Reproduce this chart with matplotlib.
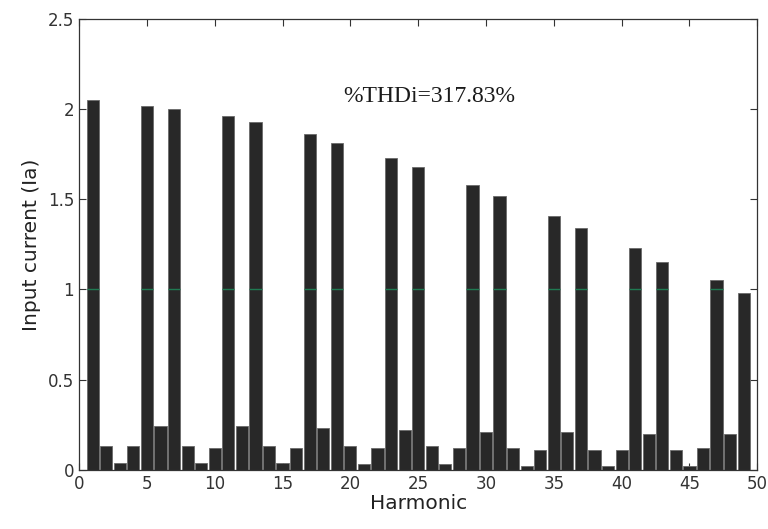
import numpy as np
import matplotlib.pyplot as plt

# harmonic order and input current magnitude (A)
harmonics = np.arange(1, 50)
current = [
    2.05, 0.13, 0.04, 0.13, 2.02, 0.24, 2.00, 0.13, 0.04, 0.12,
    1.96, 0.24, 1.93, 0.13, 0.04, 0.12, 1.86, 0.23, 1.81, 0.13,
    0.03, 0.12, 1.73, 0.22, 1.68, 0.13, 0.03, 0.12, 1.58, 0.21,
    1.52, 0.12, 0.02, 0.11, 1.41, 0.21, 1.34, 0.11, 0.02, 0.11,
    1.23, 0.20, 1.15, 0.11, 0.02, 0.12, 1.05, 0.20, 0.98,
]
thd_text = "%THDi=317.83%"

bar_width = 0.9

fig = plt.figure(figsize=(7.68, 5.29), dpi=100)
ax = fig.add_axes([0.103, 0.112, 0.883, 0.852])

ax.bar(harmonics, current, width=bar_width, color='#282828',
       edgecolor='#6a6a6a', linewidth=0.6, zorder=2)

# faint green gridline at 1 that shows through the tall bars
tall = harmonics[np.array(current) > 1]
ax.hlines(np.ones(len(tall)), tall - bar_width / 2, tall + bar_width / 2,
          colors='#1f7a52', linewidth=1.0, zorder=3)

ax.text(19.5, 2.07, thd_text, family='Liberation Serif', fontsize=17,
        ha='left', va='center', color='#1a1a1a')

ax.set_xlim(0, 50)
ax.set_ylim(0, 2.5)
ax.set_xticks(np.arange(0, 51, 5))
ax.set_yticks([0, 0.5, 1, 1.5, 2, 2.5])
ax.set_yticklabels(['0', '0.5', '1', '1.5', '2', '2.5'])
ax.tick_params(direction='in', top=True, right=True, length=5,
               labelsize=12, colors='#333333')
for s in ax.spines.values():
    s.set_linewidth(0.9)
    s.set_color('#333333')

ax.set_xlabel('Harmonic', fontsize=14.5, labelpad=1, color='#222222')
ax.set_ylabel('Input current (Ia)', fontsize=14.5, labelpad=5, color='#222222')

fig.savefig('out.png', dpi=100)
